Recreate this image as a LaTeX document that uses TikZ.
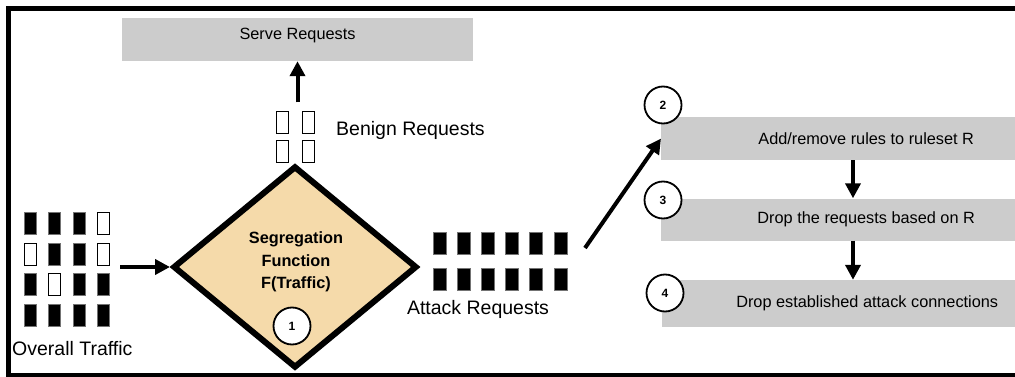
\documentclass[tikz,border=0pt]{standalone}
\usepackage{fontspec}
\setmainfont{Liberation Sans}
\usetikzlibrary{arrows.meta,shapes.geometric,fit}
\definecolor{boxgray}{RGB}{204,204,204}
\definecolor{segfill}{RGB}{245,218,170}
\tikzset{
  stepbox/.style={fill=boxgray, draw=none, inner sep=0pt, font=\fontsize{16.3}{18}\selectfont},
  label/.style={inner sep=0pt, font=\fontsize{19.5}{22}\selectfont},
  attackreq/.style={fill=black, draw=black!55, line width=0.8pt, minimum width=12pt, minimum height=22pt, inner sep=0pt},
  benignreq/.style={fill=white, draw=black, line width=1pt, minimum width=12pt, minimum height=22pt, inner sep=0pt},
  stepnum/.style={circle, draw=black, line width=1.8pt, fill=white, minimum size=37pt, inner sep=0pt, font=\fontsize{12}{14}\bfseries},
  flow/.style={line width=4pt, -{Triangle[length=15pt,width=15pt]}},
}
\begin{document}
\begin{tikzpicture}[x=1pt,y=-1pt]
\useasboundingbox (0,0) rectangle (1015,377);
\begin{scope}
\clip (0,0) rectangle (1015,377);
% outer frame
\draw[line width=5pt] (8.5,8.5) rectangle (1040,375);

% serve requests
\node[stepbox, minimum width=351pt, minimum height=43pt] (serve) at (297.5,39.5) {};
\node[inner sep=0pt, font=\fontsize{16.3}{18}\selectfont] (servetext) at (297.5,36) {Serve Requests};

% benign requests
\foreach \r in {0,1}
  \foreach \c in {0,1}
    \node[benignreq] (b\r\c) at (282+26*\c,123+29*\r) {};
\node[fit=(b00)(b11), inner sep=0pt] (benign) {};
\node[label, anchor=west] (benignlbl) at (336,130) {Benign Requests};

% overall traffic (1 = attack, 0 = benign)
\foreach \row/\pattern [count=\j from 0] in {0/{1,1,1,0},1/{0,1,1,0},2/{1,0,1,1},3/{1,1,1,1}}
  \foreach \v [count=\i from 0] in \pattern {
    \ifnum\v=1
      \node[attackreq] (t\j\i) at (30.5+24.3*\i,223.5+30.5*\j) {};
    \else
      \node[benignreq] (t\j\i) at (30.5+24.3*\i,223.5+30.5*\j) {};
    \fi
  }
\node[fit=(t00)(t33), inner sep=0pt] (traffic) {};
\node[label, anchor=west] (trafficlbl) at (12,349) {Overall Traffic};

% segregation function
\node[diamond, draw=black, line width=6pt, fill=segfill, minimum width=244pt, minimum height=202pt, inner sep=0pt] (seg) at (295,267) {};
\node[align=center, inner sep=0pt, font=\fontsize{16.3}{22.5}\bfseries] (segtext) at (296,262) {Segregation\\Function\\F(Traffic)};
\node[stepnum] (c1) at (292,326) {1};

% attack requests
\foreach \r in {0,1}
  \foreach \c in {0,...,5}
    \node[attackreq, minimum width=13pt] (a\r\c) at (439.5+24.2*\c,243+36.5*\r) {};
\node[fit=(a00)(a15), inner sep=0pt] (attack) {};
\node[label] (attacklbl) at (478,309) {Attack Requests};
\coordinate (atkout) at (585,248);

% mitigation steps
\node[stepbox, minimum width=410pt, minimum height=43pt, anchor=west] (step2) at (661,138.5) {Add/remove rules to ruleset R};
\node[stepbox, minimum width=410pt, minimum height=42pt, anchor=west] (step3) at (661,219.5) {Drop the requests based on R};
\node[stepbox, minimum width=410pt, minimum height=47pt, anchor=west] (step4) at (662,303.5) {Drop established attack connections};
\node[stepnum] (c2) at (663,105) {2};
\node[stepnum] (c3) at (663,200) {3};
\node[stepnum] (c4) at (665,293) {4};

% connectors
\coordinate (dropx) at (853,0);
\draw[flow, shorten <=10pt] (traffic.east |- seg.west) -- (seg.west);
\draw[flow, shorten <=9pt] (benign.north -| serve.south) -- (serve.south);
\draw[flow] (atkout) -- (step2.west);
\draw[flow] (step2.south -| dropx) -- (step3.north -| dropx);
\draw[flow] (step3.south -| dropx) -- (step4.north -| dropx);
\end{scope}
\end{tikzpicture}
\end{document}
